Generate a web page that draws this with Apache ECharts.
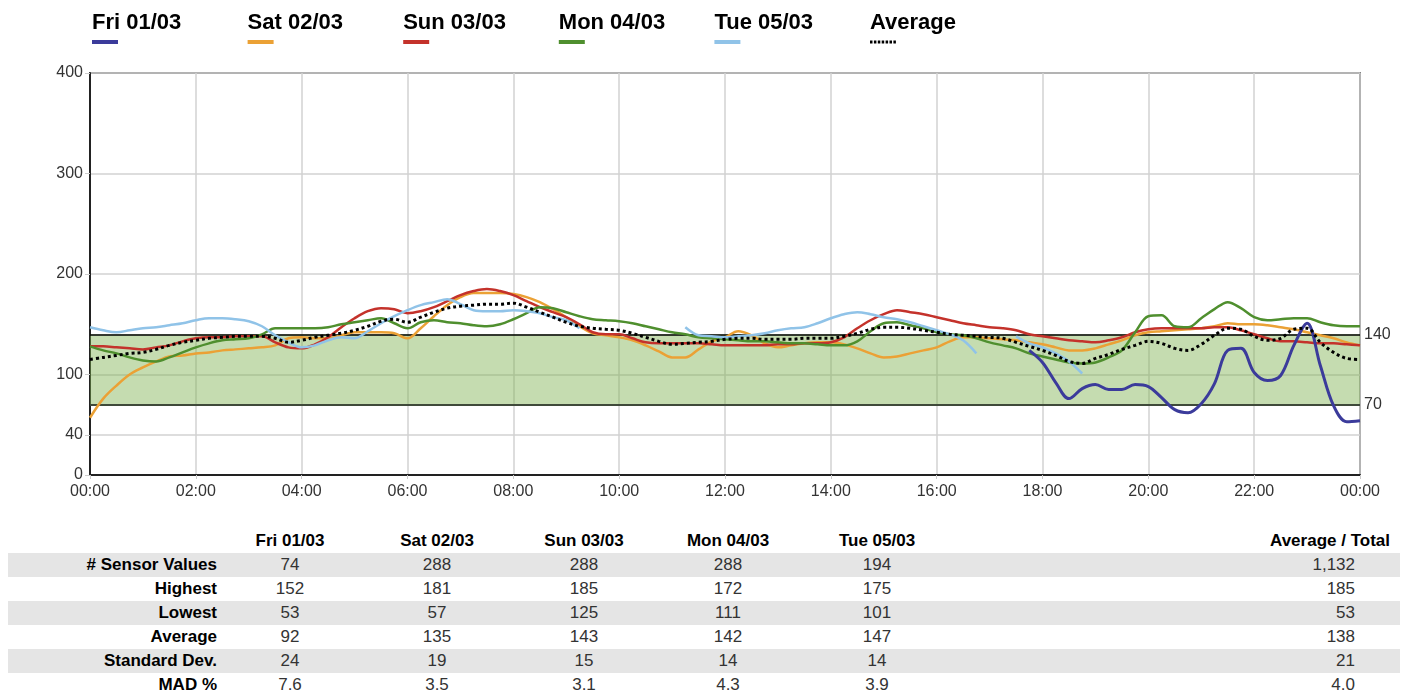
<!DOCTYPE html>
<html>
<head>
<meta charset="utf-8">
<script src="https://cdn.jsdelivr.net/npm/echarts@6/dist/echarts.min.js"></script>
<style>
  html, body { margin: 0; padding: 0; background: #fff; }
  #chart { position: absolute; left: 0; top: 0; width: 1409px; height: 520px; }
  #stats { position: absolute; left: 8px; top: 529px; width: 1392px; border-collapse: collapse; table-layout: fixed;
           font-family: 'Liberation Sans', Arial, sans-serif; }
  #stats th, #stats td { height: 24px; line-height: 24px; padding: 0; white-space: nowrap; font-size: 17px; }
  #stats th { font-weight: bold; color: #000; text-align: center; }
  #stats td { text-align: center; color: #333; }
  #stats td.label { font-weight: bold; color: #000; text-align: right; padding-right: 5px; }
  #stats th.total { text-align: right; padding-right: 10px; }
  #stats td.total { text-align: right; padding-right: 45px; }
  #stats tbody tr:nth-child(odd) td { background: #e5e5e5; }
</style>
</head>
<body>
<div id="chart"></div>
<table id="stats">
  <colgroup>
    <col style="width:214px"><col style="width:136px"><col style="width:158px"><col style="width:136px">
    <col style="width:152px"><col style="width:146px"><col style="width:250px"><col style="width:200px">
  </colgroup>
  <thead></thead>
  <tbody></tbody>
</table>
<script>
// ---- data ----
const seriesNames = ['Fri 01/03', 'Sat 02/03', 'Sun 03/03', 'Mon 04/03', 'Tue 05/03', 'Average'];
const seriesColors = ['#3b3b9b', '#eba135', '#c4322b', '#4f8f2e', '#90c3e8', '#000000'];

// sample every 15 minutes, 00:00 .. 24:00
const minutes = Array.from({ length: 97 }, (_, i) => i * 15);

const fri = [
  null, null, null, null, null, null, null, null, null, null, null, null,
  null, null, null, null, null, null, null, null, null, null, null, null,
  null, null, null, null, null, null, null, null, null, null, null, null,
  null, null, null, null, null, null, null, null, null, null, null, null,
  null, null, null, null, null, null, null, null, null, null, null, null,
  null, null, null, null, null, null, null, null, null, null, null, 124,
  112, 92, 76, 86, 90, 85, 85, 90, 88, 77, 65, 62,
  71, 91, 124, 126, 102, 94, 99, 129, 151, 109, 69, 53,
  54
];
const sat = [
  57, 76, 89, 100, 107, 113, 118, 119, 121, 122, 124, 125,
  126, 127, 129, 136, 137, 136, 136, 139, 142, 142, 142, 141,
  136, 146, 158, 169, 177, 181, 181, 181, 180, 177, 172, 165,
  157, 148, 141, 139, 137, 134, 129, 123, 117, 117, 125, 133,
  137, 143, 139, 131, 127, 129, 131, 132, 132, 130, 126, 121,
  117, 118, 121, 124, 127, 133, 137, 137, 136, 135, 134, 132,
  130, 127, 124, 124, 126, 130, 134, 139, 142, 143, 144, 145,
  146, 148, 151, 150, 150, 149, 147, 145, 142, 139, 136, 132,
  129
];
const sun = [
  128, 128, 127, 126, 125, 127, 129, 133, 136, 137, 137, 138,
  138, 138, 132, 127, 126, 130, 137, 147, 156, 163, 166, 165,
  161, 163, 167, 173, 179, 183, 185, 183, 179, 173, 167, 162,
  157, 150, 142, 140, 140, 136, 132, 131, 131, 131, 131, 130,
  129, 129, 129, 129, 130, 130, 131, 131, 132, 137, 146, 154,
  160, 164, 162, 160, 157, 154, 151, 149, 147, 146, 144, 140,
  138, 136, 134, 133, 132, 134, 137, 142, 145, 146, 146, 146,
  146, 147, 147, 144, 140, 136, 133, 133, 132, 131, 131, 130,
  129
];
const mon = [
  128, 124, 121, 117, 114, 113, 117, 122, 127, 131, 134, 135,
  136, 140, 146, 146, 146, 146, 147, 150, 152, 154, 156, 151,
  146, 152, 154, 152, 151, 149, 148, 150, 155, 161, 167, 166,
  162, 158, 155, 154, 153, 151, 148, 145, 142, 140, 137, 136,
  135, 134, 133, 133, 132, 131, 131, 130, 129, 129, 133, 143,
  151, 152, 149, 146, 142, 140, 139, 136, 132, 129, 126, 121,
  118, 115, 112, 111, 112, 117, 124, 142, 158, 159, 148, 147,
  156, 165, 172, 166, 157, 154, 155, 156, 156, 152, 149, 148,
  148
];
const tue = [
  147, 144, 142, 144, 146, 147, 149, 151, 154, 156, 156, 155,
  153, 148, 139, 132, 127, 129, 134, 137, 136, 143, 151, 158,
  164, 169, 172, 175, 170, 164, 163, 163, 164, 163, 161, 157,
  154, 146, null, null, null, null, null, null, null, 147, 139, 138,
  137, 138, 139, 141, 144, 146, 147, 151, 156, 160, 162, 160,
  157, 155, 152, 148, 144, 140, 134, 121, null, null, 138, 131,
  127, 121, 113, 101, null, null, null, null, null, null, null, null,
  null, null, null, null, null, null, null, null, null, null, null, null,
  null
];
const avg = [
  115, 117, 119, 121, 122, 125, 129, 132, 134, 136, 137, 138,
  138, 138, 136, 132, 134, 137, 139, 141, 144, 148, 153, 155,
  152, 157, 162, 166, 168, 169, 170, 170, 171, 167, 162, 157,
  152, 148, 146, 145, 144, 141, 137, 133, 130, 131, 132, 133,
  135, 136, 136, 135, 135, 135, 136, 136, 136, 138, 141, 145,
  147, 147, 146, 144, 142, 140, 139, 138, 137, 136, 132, 128,
  124, 119, 113, 111, 116, 120, 125, 129, 133, 131, 126, 124,
  130, 139, 146, 145, 138, 134, 136, 145, 146, 132, 122, 116,
  115
];
const targetRange = [70, 140];
const yTicks = [0, 40, 100, 200, 300, 400];

// stats table
const statLabels = ['# Sensor Values', 'Highest', 'Lowest', 'Average', 'Standard Dev.', 'MAD %'];
const sensorCounts = ['74', '288', '288', '288', '194', '1,132'];
const highest = ['152', '181', '185', '172', '175', '185'];
const lowest = ['53', '57', '125', '111', '101', '53'];
const averages = ['92', '135', '143', '142', '147', '138'];
const stdDevs = ['24', '19', '15', '14', '14', '21'];
const mads = ['7.6', '3.5', '3.1', '4.3', '3.9', '4.0'];

// ---- table ----
const statRows = [sensorCounts, highest, lowest, averages, stdDevs, mads];
let head = '<tr><th></th>';
seriesNames.slice(0, 5).forEach(n => { head += '<th>' + n + '</th>'; });
head += '<th></th><th class="total">Average / Total</th></tr>';
document.querySelector('#stats thead').innerHTML = head;
let body = '';
statRows.forEach((row, r) => {
  body += '<tr><td class="label">' + statLabels[r] + '</td>';
  row.slice(0, 5).forEach(v => { body += '<td>' + v + '</td>'; });
  body += '<td></td><td class="total">' + row[5] + '</td></tr>';
});
document.querySelector('#stats tbody').innerHTML = body;

// ---- chart ----
const chart = echarts.init(document.getElementById('chart'));
const font = 'Liberation Sans, Arial, sans-serif';

function pairs(values) {
  return minutes.map((m, i) => [m, values[i]]);
}

// legend: name with a colour strip underneath
const legendRich = {
  t: { fontSize: 22, fontWeight: 'bold', color: '#000', fontFamily: font, width: 149.6, lineHeight: 26 },
  d: { width: 2.5, height: 3, backgroundColor: '#000', lineHeight: 12 },
  g: { width: 1.4, height: 3, lineHeight: 12 }
};
seriesColors.forEach((c, i) => {
  legendRich['l' + i] = { width: 26, height: 4, backgroundColor: c, lineHeight: 12 };
});

const lineData = [fri, sat, sun, mon, tue, avg];
const drawOrder = [1, 2, 3, 4, 0, 5];

const series = [{
  name: 'Target',
  type: 'line',
  data: [],
  silent: true,
  markArea: {
    silent: true,
    z: 1,
    itemStyle: { color: 'rgba(126,177,79,0.45)' },
    data: [[{ yAxis: targetRange[0] }, { yAxis: targetRange[1] }]]
  },
  markLine: {
    silent: true,
    z: 1,
    symbol: 'none',
    label: { position: 'end', formatter: '{c}', color: '#333', fontSize: 16, fontFamily: font, distance: 4 },
    data: [
      { yAxis: targetRange[1], lineStyle: { color: '#000', width: 1.5, type: 'solid' } },
      { yAxis: targetRange[0], lineStyle: { color: '#3f4a3a', width: 2, type: 'solid' } }
    ]
  }
}];
drawOrder.forEach(i => {
  series.push({
    name: seriesNames[i],
    type: 'line',
    data: pairs(lineData[i]),
    showSymbol: false,
    smooth: 0.35,
    connectNulls: false,
    color: seriesColors[i],
    lineStyle: i === 5
      ? { color: '#000', width: 3, type: [3, 3], cap: 'butt' }
      : { color: seriesColors[i], width: i === 0 ? 3 : 2.5 }
  });
});

const option = {
  animation: false,
  legend: {
    data: seriesNames,
    left: 81,
    top: 7,
    itemGap: 0,
    itemWidth: 0,
    itemHeight: 0,
    selectedMode: false,
    itemStyle: { opacity: 0 },
    lineStyle: { opacity: 0 },
    textStyle: { rich: legendRich },
    formatter: function (name) {
      const i = seriesNames.indexOf(name);
      if (i === 5) {
        return '{t|' + name + '}\n{d|}{g|}{d|}{g|}{d|}{g|}{d|}{g|}{d|}{g|}{d|}{g|}{d|}';
      }
      return '{t|' + name + '}\n{l' + i + '|}';
    }
  },
  grid: {
    left: 90, right: 49, top: 73, bottom: 45,
    show: true, borderColor: '#222', borderWidth: 1.5
  },
  xAxis: {
    type: 'value',
    min: 0,
    max: 1440,
    interval: 120,
    axisLine: { lineStyle: { color: '#222', width: 2 } },
    axisTick: { show: true, length: 4, lineStyle: { color: '#ccc' } },
    splitLine: { show: true, lineStyle: { color: '#d2d2d2', width: 1.5 } },
    axisLabel: {
      color: '#333', fontSize: 16, fontFamily: font, margin: 9,
      formatter: v => String(Math.floor(v / 60) % 24).padStart(2, '0') + ':00'
    }
  },
  yAxis: {
    type: 'value',
    min: 0,
    max: 400,
    axisLine: { show: true, lineStyle: { color: '#222', width: 2 } },
    axisTick: { show: true, length: 5, customValues: yTicks, lineStyle: { color: '#ccc' } },
    splitLine: { show: true, lineStyle: { color: '#d2d2d2', width: 1.5 } },
    axisLabel: { color: '#333', fontSize: 16, fontFamily: font, margin: 7, customValues: yTicks }
  },
  series: series
};
chart.setOption(option);
</script>
</body>
</html>
